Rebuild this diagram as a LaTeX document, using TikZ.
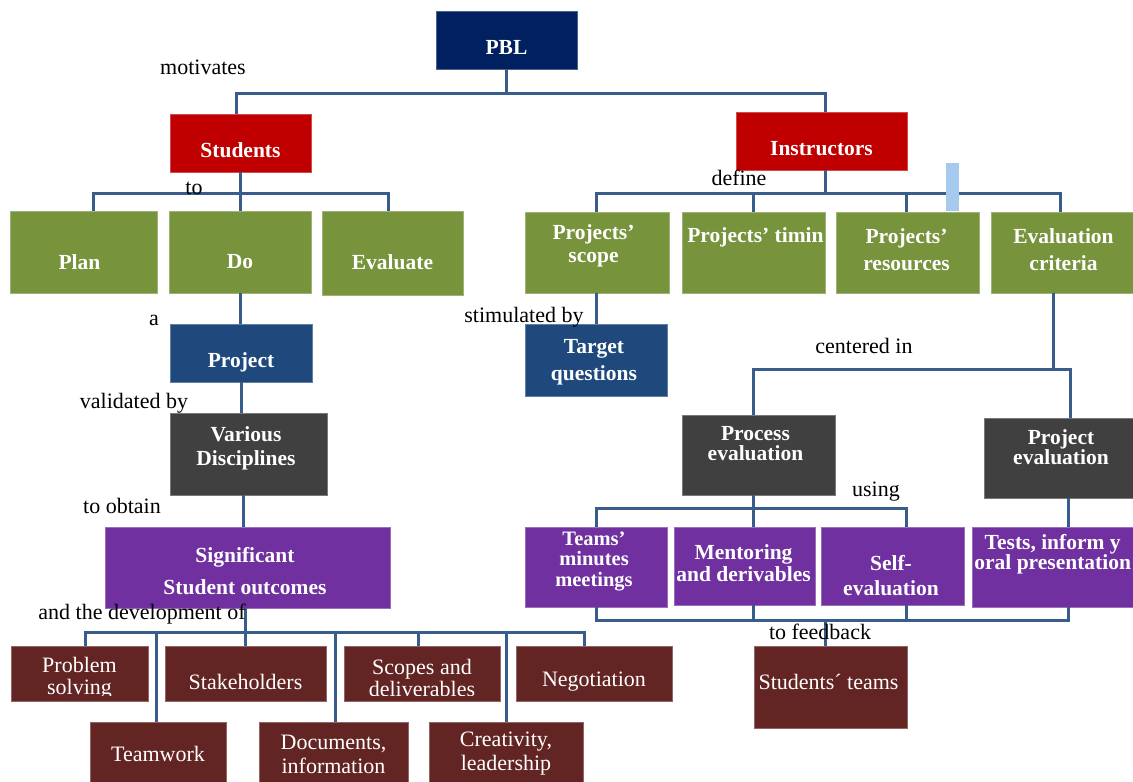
\documentclass[tikz,border=0pt]{standalone}
\usepackage{fontspec}
\setmainfont{Liberation Serif}
\usetikzlibrary{calc}
\definecolor{cnavy}{RGB}{0,32,96}
\definecolor{cred}{RGB}{192,0,0}
\definecolor{cgreen}{RGB}{119,147,60}
\definecolor{cblue}{RGB}{31,73,125}
\definecolor{cgray}{RGB}{64,64,64}
\definecolor{cpurple}{RGB}{112,48,160}
\definecolor{cmaroon}{RGB}{99,37,35}
\definecolor{cline}{RGB}{56,93,138}
\definecolor{cbar}{RGB}{166,202,238}
\begin{document}
\begin{tikzpicture}[x=1pt,y=-1pt,
 box/.style={rectangle, fill=#1, draw=#1!70!white, line width=0.8pt, inner sep=0pt},
 bt/.style={text=white, font=\bfseries\fontsize{21.5}{#1}\selectfont, align=center, inner sep=0pt},
 bt/.default=26,
 rt/.style={text=white, font=\fontsize{22}{#1}\selectfont, align=center, inner sep=0pt},
 rt/.default=23,
 lbl/.style={text=black, font=\fontsize{22}{24}\selectfont, inner sep=0pt},
 conn/.style={draw=cline, line width=3pt}]
\fill[white] (0,0) rectangle (1133,782);
\useasboundingbox (0,0) rectangle (1133,782);

% ---- boxes ----
\node[box=cnavy, minimum width=141, minimum height=58] (pbl) at (506.5,40) {};
\node[box=cred, minimum width=141, minimum height=58] (students) at (240.5,143) {};
\node[box=cred, minimum width=171, minimum height=58] (instructors) at (821.5,141) {};
\node[box=cgreen, minimum width=147, minimum height=82] (plan) at (83.5,252) {};
\node[box=cgreen, minimum width=142, minimum height=82] (do) at (240,252) {};
\node[box=cgreen, minimum width=141, minimum height=84] (evaluate) at (392.5,253) {};
\node[box=cgreen, minimum width=144, minimum height=81] (scope) at (597,252.5) {};
\node[box=cgreen, minimum width=143, minimum height=81] (timin) at (753.5,252.5) {};
\node[box=cgreen, minimum width=143, minimum height=81] (resources) at (907.5,252.5) {};
\node[box=cgreen, minimum width=144, minimum height=81] (criteria) at (1063,252.5) {};
\node[box=cblue, minimum width=142, minimum height=72] (target) at (596,360) {};
\node[box=cblue, minimum width=142, minimum height=58] (project) at (241,353) {};
\node[box=cgray, minimum width=157, minimum height=82] (various) at (248.5,454) {};
\node[box=cpurple, minimum width=285, minimum height=81] (significant) at (247.5,567.5) {};
\node[box=cgray, minimum width=153, minimum height=80] (process) at (758.5,455) {};
\node[box=cgray, minimum width=152, minimum height=80] (projev) at (1060,458) {};
\node[box=cpurple, minimum width=142, minimum height=80] (teams) at (596,567) {};
\node[box=cpurple, minimum width=141, minimum height=78] (mentoring) at (744.5,566) {};
\node[box=cpurple, minimum width=143, minimum height=78] (self) at (892.5,566) {};
\node[box=cpurple, minimum width=164, minimum height=80] (tests) at (1054,567) {};
\node[box=cmaroon, minimum width=153, minimum height=82] (studteams) at (830.5,687) {};
\node[box=cmaroon, minimum width=137, minimum height=55] (problem) at (79.5,673.5) {};
\node[box=cmaroon, minimum width=161, minimum height=55] (stake) at (245.5,673.5) {};
\node[box=cmaroon, minimum width=156, minimum height=55] (scopes) at (422,673.5) {};
\node[box=cmaroon, minimum width=156, minimum height=55] (negotiation) at (594,673.5) {};
\node[box=cmaroon, minimum width=136, minimum height=62] (teamwork) at (158,753) {};
\node[box=cmaroon, minimum width=149, minimum height=62] (documents) at (333.5,753) {};
\node[box=cmaroon, minimum width=154, minimum height=62] (creativity) at (506,753) {};

% ---- connectors ----
\coordinate (b0) at (0,93);
\coordinate (b1) at (0,193);
\coordinate (b3) at (0,369);
\coordinate (b4) at (0,508);
\coordinate (b5) at (0,620);
\coordinate (b6) at (0,632);
\draw[conn] (pbl.south) -- (pbl.south |- b0);
\draw[conn] ([xshift=-4]students.north) |- ([xshift=3.5]instructors.north |- b0) -- ([xshift=3.5]instructors.north);
\draw[conn] (students.south) -- (students.south |- do.north);
\draw[conn] ([xshift=9.5]plan.north) |- ([xshift=-4.5]evaluate.north |- b1) -- ([xshift=-4.5]evaluate.north);
\draw[conn] ([xshift=3.5]instructors.south) -- ([xshift=3.5]instructors.south |- b1);
\draw[conn] ([xshift=-1]scope.north) |- ([xshift=-3]criteria.north |- b1) -- ([xshift=-3]criteria.north);
\draw[conn] (timin.north) -- (timin.north |- b1);
\draw[conn] ([xshift=-1.5]resources.north) -- ([xshift=-1.5]resources.north |- b1);
\draw[conn] ([xshift=-1]scope.south) -- ([xshift=-1]scope.south |- target.north);
\draw[conn] ([xshift=-10]criteria.south) -- ([xshift=-10]criteria.south |- b3);
\draw[conn] ([xshift=-5.5]process.north) |- ([xshift=10]projev.north |- b3) -- ([xshift=10]projev.north);
\draw[conn] ([xshift=-5.5]process.south) -- ([xshift=-5.5]process.south |- b4);
\draw[conn] (teams.north) |- ([xshift=13.5]self.north |- b4) -- ([xshift=13.5]self.north);
\draw[conn] ([xshift=8.5]mentoring.north) -- ([xshift=8.5]mentoring.north |- b4);
\draw[conn] ([xshift=8]projev.south) -- ([xshift=8]projev.south |- tests.north);
\draw[conn] (teams.south) |- ([xshift=14]tests.south |- b5) -- ([xshift=14]tests.south);
\draw[conn] ([xshift=8.5]mentoring.south) -- ([xshift=8.5]mentoring.south |- b5);
\draw[conn] ([xshift=13.5]self.south) -- ([xshift=13.5]self.south |- b5);
\draw[conn] ([xshift=-5.5]studteams.north) -- ([xshift=-5.5]studteams.north |- b5);
\draw[conn] (do.south) -- (do.south |- project.north);
\draw[conn] (project.south) -- (project.south |- various.north);
\draw[conn] ([xshift=-5.5]various.south) -- ([xshift=-5.5]various.south |- significant.north);
\draw[conn] ([xshift=-2.5]significant.south) -- ([xshift=-2.5]significant.south |- stake.north);
\draw[conn] ([xshift=5.5]problem.north) |- ([xshift=-10]negotiation.north |- b6) -- ([xshift=-10]negotiation.north);
\draw[conn] ([xshift=-2]teamwork.north) -- ([xshift=-2]teamwork.north |- b6);
\draw[conn] ([xshift=1.5]documents.north) -- ([xshift=1.5]documents.north |- b6);
\draw[conn] ([xshift=-4]scopes.north) -- ([xshift=-4]scopes.north |- b6);
\draw[conn] (creativity.north) -- (creativity.north |- b6);

% light blue bar
\node[fill=cbar, inner sep=0pt, minimum width=13, minimum height=48, anchor=north west] (bar) at (946,163) {};

% ---- box texts ----
\node[bt] (pbl-t) at ($(pbl.center)+(0,7)$) {PBL};
\node[bt] (students-t) at ($(students.center)+(0,7.5)$) {Students};
\node[bt] (instructors-t) at ($(instructors.center)+(0,8)$) {Instructors};
\node[bt] (plan-t) at ($(plan.center)+(-4,10)$) {Plan};
\node[bt] (do-t) at ($(do.center)+(0,10)$) {Do};
\node[bt] (evaluate-t) at ($(evaluate.center)+(0,9)$) {Evaluate};
\node[bt=23] (scope-t) at ($(scope.center)+(-3.5,-7)$) {Projects’\\scope};
\node[bt] (timin-t) at ($(timin.center)+(2,-15.5)$) {Projects’ timin};
\node[bt=27] (resources-t) at ($(resources.center)+(-1,-3)$) {Projects’\\resources};
\node[bt=27] (criteria-t) at ($(criteria.center)+(0.5,-3)$) {Evaluation\\criteria};
\node[bt=27] (target-t) at ($(target.center)+(-2,2.5)$) {Target\\questions};
\node[bt] (project-t) at ($(project.center)+(0,9)$) {Project};
\node[bt=24] (various-t) at ($(various.center)+(-2.5,-6)$) {Various\\Disciplines};
\node[bt=32] (significant-t) at ($(significant.center)+(-2.5,3.5)$) {Significant\\Student outcomes};
\node[bt=20] (process-t) at ($(process.center)+(-3,-11)$) {Process\\evaluation};
\node[bt=20] (projev-t) at ($(projev.center)+(1,-11)$) {Project\\evaluation};
\node[text=white, font=\bfseries\fontsize{20.5}{20.5}\selectfont, align=center, inner sep=0pt] (teams-t) at ($(teams.center)+(-2,-6)$) {Teams’\\minutes\\meetings};
\node[bt=22] (mentoring-t) at ($(mentoring.center)+(-1,-3)$) {Mentoring\\and derivables};
\node[bt=25] (self-t) at ($(self.center)+(-1.5,9.5)$) {Self-\\evaluation};
\node[bt=20] (tests-t) at ($(tests.center)+(-1.3,-13)$) {Tests, inform y\\oral presentation};
\node[rt] (studteams-t) at ($(studteams.center)+(-2,-5.5)$) {Students´ teams};
\begin{scope}
\clip (problem.north west) rectangle ($(problem.south east)+(0,-6)$);
\node[rt=22] (problem-t) at ($(problem.center)+(0,4.5)$) {Problem\\solving};
\end{scope}
\node[rt] (stake-t) at ($(stake.center)+(0,8.5)$) {Stakeholders};
\begin{scope}
\clip (scopes.north west) rectangle ($(scopes.south east)+(0,-6)$);
\node[rt=22] (scopes-t) at ($(scopes.center)+(0,4.5)$) {Scopes and\\deliverables};
\end{scope}
\node[rt] (negotiation-t) at ($(negotiation.center)+(0,8.5)$) {Negotiation};
\node[rt] (teamwork-t) at ($(teamwork.center)+(0,1)$) {Teamwork};
\node[rt=24] (documents-t) at ($(documents.center)+(0,1)$) {Documents,\\information};
\node[rt=24] (creativity-t) at ($(creativity.center)+(0,1)$) {Creativity,\\leadership};

% ---- connector labels ----
\node[lbl] (l-mot) at (203,67) {motivates};
\node[lbl] (l-to) at (194,188) {to};
\node[lbl] (l-def) at (739,178) {define};
\node[lbl] (l-stim) at (524,317) {stimulated by};
\node[lbl] (l-cen) at (864,346) {centered in};
\node[lbl] (l-a) at (154,320) {a};
\node[lbl] (l-val) at (134,403) {validated by};
\node[lbl] (l-obt) at (122,506) {to obtain};
\node[lbl] (l-dev) at (142,614) {and the development of};
\node[lbl] (l-use) at (876,492) {using};
\node[lbl] (l-fb) at (820,632) {to feedback};
\end{tikzpicture}
\end{document}
